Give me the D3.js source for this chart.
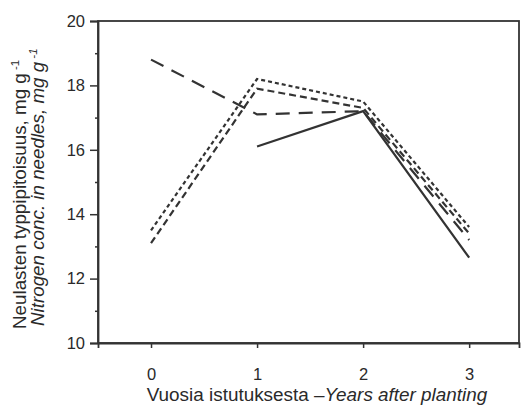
<!DOCTYPE html>
<html>
<head>
<meta charset="utf-8">
<script src="https://cdn.jsdelivr.net/npm/d3@7"></script>
<style>
  body { margin: 0; background: #fff; }
  svg text { font-family: "Liberation Sans", Arial, sans-serif; fill: #2a2a2a; }
</style>
</head>
<body>
<svg width="527" height="405"></svg>
<script>
// Data
const years = [0, 1, 2, 3];
const dotted = [13.5, 18.2, 17.5, 13.6];      // short dashes
const mediumDash = [13.1, 17.9, 17.3, 13.4];  // medium dashes
const longDash = [18.8, 17.1, 17.2, 13.2];    // long dashes
const solid = [null, 16.1, 17.2, 12.65];       // solid, no value for year 0
const yTicks = [10, 12, 14, 16, 18, 20];
const yMinor = [11, 13, 15, 17, 19];

const svg = d3.select('svg');
const ink = '#333';

const x = d3.scaleLinear().domain([-0.5, 3.47]).range([98, 519]);
const y = d3.scaleLinear().domain([10, 20]).range([343, 21]);

// frame (box round the plot)
svg.append('rect')
  .attr('x', x.range()[0])
  .attr('y', y.range()[1])
  .attr('width', x.range()[1] - x.range()[0])
  .attr('height', y.range()[0] - y.range()[1])
  .style('fill', 'none')
  .style('stroke', ink)
  .style('stroke-width', 1.8);

// y axis, major ticks with labels
svg.append('g')
  .attr('transform', `translate(${x.range()[0]},0)`)
  .call(d3.axisLeft(y).tickValues(yTicks).tickSize(8).tickPadding(5).tickFormat(d3.format('d')));
// minor ticks
svg.append('g')
  .attr('transform', `translate(${x.range()[0]},0)`)
  .call(d3.axisLeft(y).tickValues(yMinor).tickSize(3).tickFormat(''))
  .call(g => g.select('.domain').remove());

// x axis
svg.append('g')
  .attr('transform', `translate(0,${y.range()[0]})`)
  .call(d3.axisBottom(x).tickValues(years).tickSize(5).tickPadding(20).tickFormat(d3.format('d')));

svg.selectAll('.domain').style('stroke', ink).style('stroke-width', 1.8);
svg.selectAll('.tick line').style('stroke', ink).style('stroke-width', 1.5);
svg.selectAll('.tick text').style('font-size', '16.5px').style('fill', '#2a2a2a');

// series
const line = d3.line()
  .defined(d => d[1] != null)
  .x(d => x(d[0]))
  .y(d => y(d[1]));

const series = [
  {values: longDash, dash: '14,9'},
  {values: mediumDash, dash: '7,4'},
  {values: dotted, dash: '4,3'},
  {values: solid, dash: null}
];

series.forEach(s => {
  svg.append('path')
    .attr('d', line(years.map((yr, i) => [yr, s.values[i]])))
    .style('fill', 'none')
    .style('stroke', ink)
    .style('stroke-width', 2.2)
    .style('stroke-dasharray', s.dash);
});

// y axis title, two rotated lines
const yt1 = svg.append('text')
  .attr('transform', 'translate(26,329) rotate(-90)')
  .style('font-size', '18.8px');
yt1.append('tspan').text('Neulasten typpipitoisuus, mg g');
yt1.append('tspan').attr('dy', -7).style('font-size', '11.5px').text(' -1');

const yt2 = svg.append('text')
  .attr('transform', 'translate(44,326) rotate(-90)')
  .style('font-size', '18.8px')
  .style('font-style', 'italic');
yt2.append('tspan').text('Nitrogen conc. in needles, mg g');
yt2.append('tspan').attr('dy', -7).style('font-size', '11.5px').text(' -1');

// x axis title
const xt = svg.append('text')
  .attr('x', 317)
  .attr('y', 401)
  .attr('text-anchor', 'middle')
  .style('font-size', '18.9px');
xt.append('tspan').text('Vuosia istutuksesta \u2013');
xt.append('tspan').style('font-style', 'italic').text('Years after planting');
</script>
</body>
</html>
